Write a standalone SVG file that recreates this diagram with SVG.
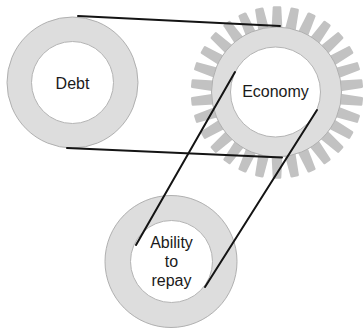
<svg xmlns="http://www.w3.org/2000/svg" xmlns:xlink="http://www.w3.org/1999/xlink" width="363" height="329" viewBox="0 0 363 329">
  <style>
    .ring { fill: #dddddd; stroke: #b0b0b0; stroke-width: 1; }
    .hole { fill: #ffffff; stroke: #b4b4b4; stroke-width: 1; }
    .tooth { fill: #c2c2c2; }
    .label { font-family: "Liberation Sans", Arial, sans-serif; font-size: 16px; fill: #1a1a1a; text-anchor: middle; }
    .belt { stroke: #141414; stroke-width: 2; fill: none; stroke-linecap: round; }
  </style>
  <defs>
    <!-- one gear tooth, pointing up from the gear centre -->
    <path id="tooth" d="M -5.6,-60 L -4.3,-85 Q -4.2,-86.2 -3,-86.2 L 3,-86.2 Q 4.2,-86.2 4.3,-85 L 5.6,-60 Z"/>
  </defs>
  <rect width="363" height="329" fill="#ffffff"/>

  <g id="debt">
    <circle class="ring" cx="72.5" cy="82.5" r="65.5"/>
    <circle class="hole" cx="72.5" cy="82.5" r="41"/>
    <text class="label" x="72.5" y="89">Debt</text>
  </g>

  <g id="economy">
    <g class="tooth" transform="translate(277,92.5)">
      <use xlink:href="#tooth" transform="rotate(0)"/>
      <use xlink:href="#tooth" transform="rotate(12)"/>
      <use xlink:href="#tooth" transform="rotate(24)"/>
      <use xlink:href="#tooth" transform="rotate(36)"/>
      <use xlink:href="#tooth" transform="rotate(48)"/>
      <use xlink:href="#tooth" transform="rotate(60)"/>
      <use xlink:href="#tooth" transform="rotate(72)"/>
      <use xlink:href="#tooth" transform="rotate(84)"/>
      <use xlink:href="#tooth" transform="rotate(96)"/>
      <use xlink:href="#tooth" transform="rotate(108)"/>
      <use xlink:href="#tooth" transform="rotate(120)"/>
      <use xlink:href="#tooth" transform="rotate(132)"/>
      <use xlink:href="#tooth" transform="rotate(144)"/>
      <use xlink:href="#tooth" transform="rotate(156)"/>
      <use xlink:href="#tooth" transform="rotate(168)"/>
      <use xlink:href="#tooth" transform="rotate(180)"/>
      <use xlink:href="#tooth" transform="rotate(192)"/>
      <use xlink:href="#tooth" transform="rotate(204)"/>
      <use xlink:href="#tooth" transform="rotate(216)"/>
      <use xlink:href="#tooth" transform="rotate(228)"/>
      <use xlink:href="#tooth" transform="rotate(240)"/>
      <use xlink:href="#tooth" transform="rotate(252)"/>
      <use xlink:href="#tooth" transform="rotate(264)"/>
      <use xlink:href="#tooth" transform="rotate(276)"/>
      <use xlink:href="#tooth" transform="rotate(288)"/>
      <use xlink:href="#tooth" transform="rotate(300)"/>
      <use xlink:href="#tooth" transform="rotate(312)"/>
      <use xlink:href="#tooth" transform="rotate(324)"/>
      <use xlink:href="#tooth" transform="rotate(336)"/>
      <use xlink:href="#tooth" transform="rotate(348)"/>
    </g>
    <circle class="ring" cx="276.5" cy="92" r="65"/>
    <circle class="hole" cx="275.5" cy="92" r="45"/>
    <text class="label" x="275.5" y="97">Economy</text>
  </g>

  <g id="ability">
    <circle class="ring" cx="171" cy="261.5" r="66"/>
    <circle class="hole" cx="171.5" cy="261.5" r="41"/>
    <text class="label" x="171.5" y="248">Ability</text>
    <text class="label" x="171.5" y="267">to</text>
    <text class="label" x="171.5" y="286">repay</text>
  </g>

  <g id="connectors">
    <line class="belt" x1="78" y1="16" x2="280" y2="26"/>
    <line class="belt" x1="67" y1="148" x2="282" y2="157.5"/>
    <line class="belt" x1="235" y1="72" x2="136" y2="245"/>
    <line class="belt" x1="317" y1="110" x2="205" y2="287"/>
  </g>
</svg>
